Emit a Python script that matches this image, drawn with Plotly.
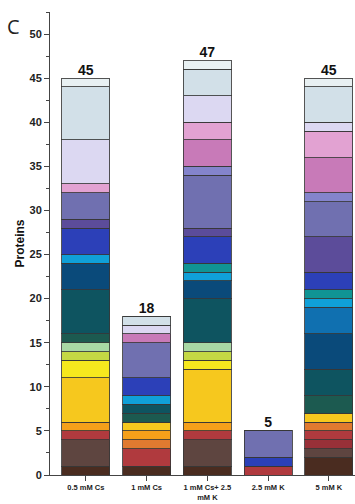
import plotly.graph_objects as go

# Conditions (x categories)
conditions = ["0.5 mM Cs", "1 mM Cs", "1 mM Cs+ 2.5<br>mM K", "2.5 mM K", "5 mM K"]

# Protein counts per functional group, stacked bottom to top
group_colors = [
    "#4a2c20", "#5e4540", "#983038", "#b03a3e", "#e07a30",
    "#f5a01a", "#f6c81e", "#f6e81e", "#c4d844", "#a8d8a4",
    "#1c5a50", "#0e5460", "#0a4a7a", "#1070b0", "#10a0d8",
    "#109494", "#2c40b8", "#5c4c9a", "#7070b0", "#8484cc",
    "#c87ab8", "#e2a2d2", "#dcd8f2", "#d2e0e8", "#e8f0f2",
]
group_counts = [
    [1, 1, 1, 0, 2],
    [3, 0, 3, 0, 1],
    [0, 0, 0, 0, 1],
    [1, 2, 1, 1, 1],
    [0, 1, 0, 0, 1],
    [1, 1, 1, 0, 0],
    [5, 1, 6, 0, 1],
    [2, 0, 1, 0, 0],
    [1, 0, 1, 0, 0],
    [1, 0, 1, 0, 0],
    [1, 1, 0, 0, 2],
    [5, 1, 5, 0, 3],
    [3, 0, 2, 0, 4],
    [0, 0, 0, 0, 3],
    [1, 1, 1, 0, 1],
    [0, 0, 1, 0, 1],
    [3, 2, 3, 1, 2],
    [1, 0, 1, 0, 4],
    [3, 4, 6, 3, 4],
    [0, 0, 1, 0, 1],
    [0, 1, 3, 0, 4],
    [1, 0, 2, 0, 3],
    [5, 1, 3, 0, 1],
    [6, 1, 3, 0, 4],
    [1, 0, 1, 0, 1],
]

xpos = list(range(len(conditions)))
totals = [sum(col) for col in zip(*group_counts)]

fig = go.Figure()
for color, counts in zip(group_colors, group_counts):
    fig.add_trace(go.Bar(
        x=xpos, y=counts, width=0.79,
        marker=dict(color=color, line=dict(color="rgba(55,55,55,0.85)", width=1)),
        showlegend=False, hoverinfo="skip",
    ))

# Totals above each stack
fig.add_trace(go.Scatter(
    x=xpos, y=totals, mode="text", text=[str(t) for t in totals],
    textposition="top center",
    textfont=dict(family="Liberation Sans", size=14, color="#111", weight="bold"),
    showlegend=False, hoverinfo="skip",
))

fig.update_layout(
    barmode="stack",
    width=355, height=504,
    margin=dict(l=50, r=0, t=12, b=29),
    paper_bgcolor="white", plot_bgcolor="white",
    font=dict(family="Liberation Sans", color="#222"),
    xaxis=dict(
        range=[-0.59, 4.43], tickvals=xpos, ticktext=conditions,
        showline=True, linecolor="#444", linewidth=1,
        ticks="outside", ticklen=5, tickcolor="#444",
        tickfont=dict(size=7.5, weight="bold", color="#222"),
        showgrid=False, zeroline=False, automargin=False,
    ),
    yaxis=dict(
        range=[0, 52.5], tickvals=list(range(0, 51, 5)),
        showline=True, linecolor="#444", linewidth=1,
        ticks="outside", ticklen=5, tickcolor="#444",
        minor=dict(dtick=2.5, tick0=0, ticks="outside", ticklen=3, tickcolor="#444"),
        tickfont=dict(size=11, weight="bold", color="#222"),
        title=dict(text="Proteins", font=dict(size=12, weight="bold", color="#111"), standoff=2),
        showgrid=False, zeroline=False,
    ),
    annotations=[dict(
        text="C", xref="paper", yref="paper", x=-0.148, y=0.968,
        xanchor="left", yanchor="middle", showarrow=False,
        font=dict(family="Open Sans", size=20, color="#222"),
    )],
)

fig.write_html("out.html")
